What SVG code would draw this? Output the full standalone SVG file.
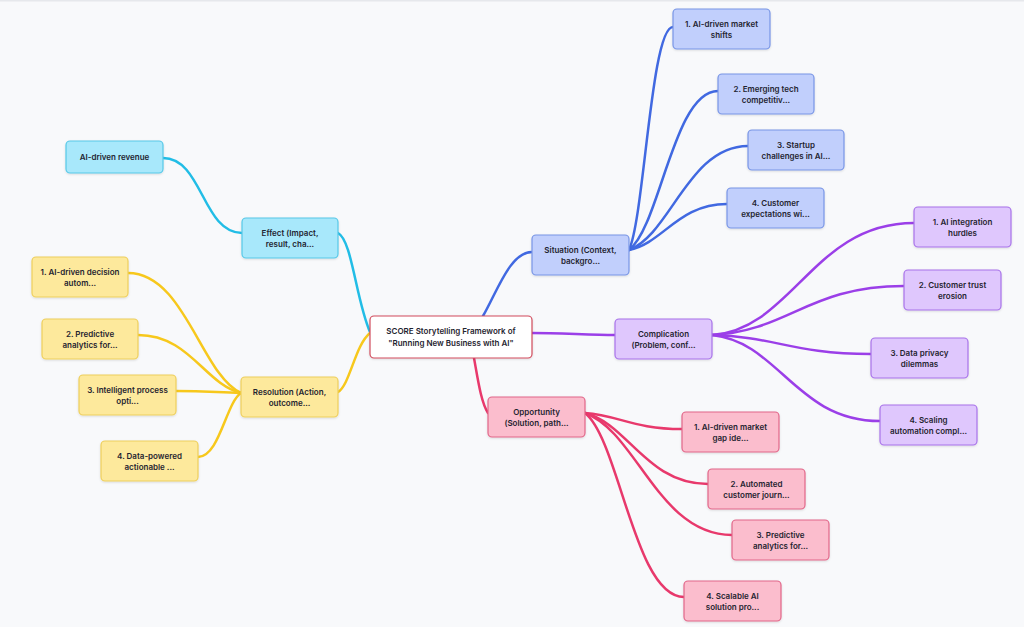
<svg xmlns="http://www.w3.org/2000/svg" width="1024" height="627" viewBox="0 0 1024 627">
<defs>
<filter id="sh" x="-10%" y="-20%" width="120%" height="150%"><feDropShadow dx="0" dy="1" stdDeviation="1" flood-color="#000" flood-opacity="0.12"/></filter>
<style>
text{font-family:Inter,"Liberation Sans",Arial,sans-serif;font-size:8px;font-weight:600;fill:#1f2430;text-anchor:middle}
rect.n{rx:4;ry:4;stroke-width:1.2;filter:url(#sh)}
.c rect{fill:#ffffff;stroke:#d14b5c}
.s rect{fill:#c1cffc;stroke:#7895e6}
.p rect{fill:#dfc7fd;stroke:#a872ea}
.o rect{fill:#fbbdcd;stroke:#e26689}
.e rect{fill:#a8e8fb;stroke:#56c8e8}
.r rect{fill:#fde99c;stroke:#eecf5c}
path{fill:none;stroke-width:2.5;stroke-linecap:round}
.eb{stroke:#4169e1}.ep{stroke:#9b3fe8}.eo{stroke:#e8396c}.ec{stroke:#22bde6}.ey{stroke:#f7c81c}
</style>
</defs>
<rect width="1024" height="627" fill="#f8f9fb"/>
<rect width="1024" height="1.5" fill="#e6e8ec"/>
<g id="connectors">
<path class="eb" d="M483,316 C497,292 510,252 532,252"/>
<path class="ep" d="M532,333 C560,333 590,335 615,335"/>
<path class="eo" d="M474,358 C478,380 481,402 488,413"/>
<path class="ec" d="M370,332 C356,300 352,240 338,233"/>
<path class="ey" d="M370,333 C355,345 350,385 338,392"/>
<path class="eb" d="M629,250 C644.4,216.6 651,27 673,27"/>
<path class="eb" d="M629,250 C660.2,226.2 673.5,91 718,91"/>
<path class="eb" d="M629,250 C670.7,234.4 688.5,146 748,146"/>
<path class="eb" d="M629,250 C663.3,243.1 678,204 727,204"/>
<path class="ep" d="M712,335 C792.8,329.4 813,223 914,223"/>
<path class="ep" d="M712,335 C788.8,331.1 808,286 904,286"/>
<path class="ep" d="M712,335 C775.6,336.5 791.5,354 871,354"/>
<path class="ep" d="M712,335 C779.2,341.9 796,421 880,421"/>
<path class="eo" d="M585,413 C619,415.4 633.5,429 682,429"/>
<path class="eo" d="M585,413 C628,423.8 646.5,484 708,484"/>
<path class="eo" d="M585,413 C636.5,431.3 658.5,535 732,535"/>
<path class="eo" d="M585,413 C619.7,440.6 634.5,597 684,597"/>
<path class="ey" d="M241,393 C201.4,375 184.5,273 128,273"/>
<path class="ey" d="M241,393 C204.9,384.3 189.5,335 138,335"/>
<path class="ey" d="M241,393 C218.2,392.7 208.5,391 176,391"/>
<path class="ey" d="M241,393 C226,402.6 219.5,457 198,457"/>
<path class="ec" d="M242,233 C202.5,233 202.5,158 163,158"/>
</g>
<g id="center" class="c"><rect class="n" x="370" y="316" width="162" height="42"/><text x="451" y="334">SCORE Storytelling Framework of</text><text x="451" y="346">"Running New Business with AI"</text></g>
<g id="situation" class="s"><rect class="n" x="532" y="235" width="97" height="40"/><text x="580.5" y="253">Situation (Context,</text><text x="580.5" y="263.5">backgro...</text></g>
<g id="s1" class="s"><rect class="n" x="673" y="9" width="97" height="40"/><text x="721.5" y="27">1. AI-driven market</text><text x="721.5" y="37.5">shifts</text></g>
<g id="s2" class="s"><rect class="n" x="718" y="74" width="96" height="40"/><text x="766" y="92">2. Emerging tech</text><text x="766" y="102.5">competitiv...</text></g>
<g id="s3" class="s"><rect class="n" x="748" y="130" width="96" height="40"/><text x="796" y="148">3. Startup</text><text x="796" y="158.5">challenges in AI...</text></g>
<g id="s4" class="s"><rect class="n" x="727" y="188" width="97" height="40"/><text x="775.5" y="206">4. Customer</text><text x="775.5" y="216.5">expectations wi...</text></g>
<g id="complication" class="p"><rect class="n" x="615" y="319" width="97" height="40"/><text x="663.5" y="337">Complication</text><text x="663.5" y="347.5">(Problem, conf...</text></g>
<g id="c1" class="p"><rect class="n" x="914" y="207" width="97" height="40"/><text x="962.5" y="225">1. AI integration</text><text x="962.5" y="235.5">hurdles</text></g>
<g id="c2" class="p"><rect class="n" x="904" y="270" width="97" height="40"/><text x="952.5" y="288">2. Customer trust</text><text x="952.5" y="298.5">erosion</text></g>
<g id="c3" class="p"><rect class="n" x="871" y="338" width="97" height="40"/><text x="919.5" y="356">3. Data privacy</text><text x="919.5" y="366.5">dilemmas</text></g>
<g id="c4" class="p"><rect class="n" x="880" y="405" width="97" height="40"/><text x="928.5" y="423">4. Scaling</text><text x="928.5" y="433.5">automation compl...</text></g>
<g id="opportunity" class="o"><rect class="n" x="488" y="397" width="97" height="40"/><text x="536.5" y="415">Opportunity</text><text x="536.5" y="425.5">(Solution, path...</text></g>
<g id="o1" class="o"><rect class="n" x="682" y="412" width="97" height="40"/><text x="730.5" y="430">1. AI-driven market</text><text x="730.5" y="440.5">gap ide...</text></g>
<g id="o2" class="o"><rect class="n" x="708" y="469" width="97" height="40"/><text x="756.5" y="487">2. Automated</text><text x="756.5" y="497.5">customer journ...</text></g>
<g id="o3" class="o"><rect class="n" x="732" y="520" width="97" height="40"/><text x="780.5" y="538">3. Predictive</text><text x="780.5" y="548.5">analytics for...</text></g>
<g id="o4" class="o"><rect class="n" x="684" y="581" width="97" height="40"/><text x="732.5" y="599">4. Scalable AI</text><text x="732.5" y="609.5">solution pro...</text></g>
<g id="effect" class="e"><rect class="n" x="242" y="218" width="96" height="40"/><text x="290" y="236">Effect (Impact,</text><text x="290" y="246.5">result, cha...</text></g>
<g id="e1" class="e"><rect class="n" x="66" y="141" width="97" height="32"/><text x="114.5" y="160">AI-driven revenue</text></g>
<g id="resolution" class="r"><rect class="n" x="241" y="377" width="97" height="40"/><text x="289.5" y="395">Resolution (Action,</text><text x="289.5" y="405.5">outcome...</text></g>
<g id="r1" class="r"><rect class="n" x="32" y="257" width="96" height="40"/><text x="80" y="275">1. AI-driven decision</text><text x="80" y="285.5">autom...</text></g>
<g id="r2" class="r"><rect class="n" x="42" y="319" width="96" height="40"/><text x="90" y="337">2. Predictive</text><text x="90" y="347.5">analytics for...</text></g>
<g id="r3" class="r"><rect class="n" x="79" y="375" width="97" height="40"/><text x="127.5" y="393">3. Intelligent process</text><text x="127.5" y="403.5">opti...</text></g>
<g id="r4" class="r"><rect class="n" x="101" y="441" width="97" height="40"/><text x="149.5" y="459">4. Data-powered</text><text x="149.5" y="469.5">actionable ...</text></g>
</svg>
